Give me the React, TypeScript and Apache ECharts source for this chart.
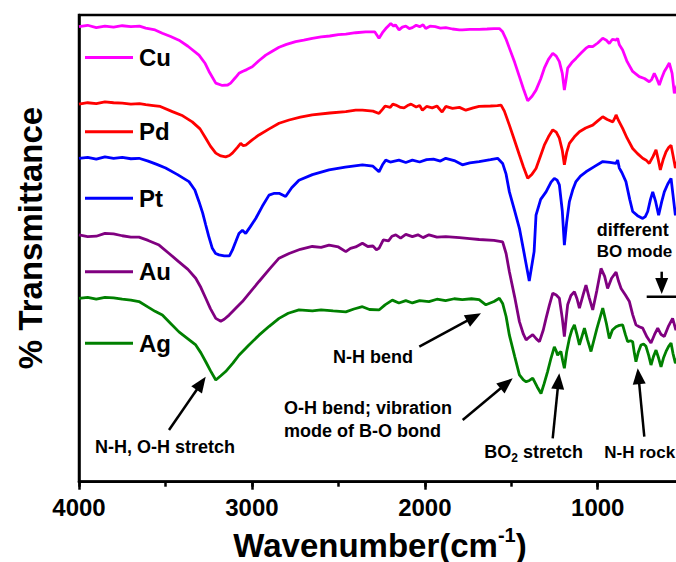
import React, { useEffect, useRef } from "react";
import * as echarts from "echarts";

const FONT = '"Liberation Sans", Arial, Helvetica, sans-serif';

// FTIR spectra: [wavenumber (cm-1), % transmittance (stacked, offset units)]
const cuSpectrum: [number, number][] = [
  [4000, 97.5], [3950, 97.8], [3900, 97.3], [3850, 97.6], [3800, 97.4], [3750, 97.7], [3700, 97.5], [3650, 97.6],
  [3614, 97.2], [3560, 96.8], [3518, 96.1], [3470, 95.4], [3422, 94.6], [3370, 93.3], [3306, 91.4], [3270, 89.6],
  [3248, 87.9], [3209, 85.4], [3171, 84.9], [3140, 85.0], [3123, 85.4], [3095, 86.6], [3075, 87.5], [3055, 87.9],
  [3030, 88.3], [2998, 88.9], [2960, 90.2], [2920, 91.4], [2880, 92.3], [2843, 93.1], [2800, 93.7], [2747, 94.3],
  [2700, 94.6], [2651, 95.0], [2600, 95.3], [2550, 95.5], [2500, 95.8], [2457, 95.9], [2400, 96.2], [2342, 96.4],
  [2290, 96.4], [2265, 95.0], [2245, 96.2], [2226, 97.1], [2197, 98.2], [2180, 97.6], [2170, 97.9], [2149, 96.8],
  [2130, 97.4], [2110, 97.6], [2090, 97.1], [2072, 97.3], [2050, 97.8], [2030, 97.5], [2010, 97.9], [1995, 97.1],
  [1970, 97.6], [1940, 97.5], [1910, 97.2], [1879, 97.3], [1840, 97.0], [1800, 96.8], [1783, 96.8], [1740, 96.9],
  [1686, 96.9], [1640, 97.0], [1600, 97.1], [1569, 97.1], [1550, 96.4], [1530, 94.8], [1511, 92.9], [1480, 89.8],
  [1453, 86.8], [1430, 84.2], [1405, 81.6], [1380, 82.6], [1357, 83.9], [1330, 86.3], [1309, 88.6], [1285, 90.5],
  [1260, 91.8], [1240, 91.2], [1222, 90.0], [1205, 87.5], [1193, 83.9], [1184, 86.0], [1174, 88.6], [1150, 89.8],
  [1126, 90.7], [1095, 91.9], [1068, 92.9], [1050, 93.3], [1029, 93.2], [1000, 94.0], [971, 95.0], [950, 94.6],
  [933, 93.9], [915, 94.8], [894, 94.6], [885, 95.0], [875, 93.6], [856, 92.5], [830, 90.0], [798, 87.9],
  [780, 87.4], [760, 86.8], [730, 86.4], [702, 85.7], [688, 86.2], [673, 87.5], [660, 86.5], [644, 85.0],
  [630, 86.5], [615, 87.9], [600, 88.8], [586, 89.7], [570, 87.5], [557, 83.2], [530, 86.1], [500, 88.2],
];

const pdSpectrum: [number, number][] = [
  [4000, 80.9], [3950, 81.2], [3900, 81.0], [3850, 81.4], [3800, 81.2], [3750, 81.1], [3700, 80.9], [3650, 81.0],
  [3614, 80.8], [3570, 80.6], [3530, 80.4], [3460, 79.3], [3400, 78.4], [3345, 77.1], [3300, 75.6], [3267, 73.6],
  [3240, 71.9], [3209, 70.4], [3180, 69.8], [3152, 69.6], [3130, 69.9], [3113, 70.4], [3085, 71.6], [3065, 72.5],
  [3050, 72.0], [3036, 72.1], [3000, 73.2], [2959, 74.3], [2900, 75.6], [2843, 76.8], [2785, 77.5], [2720, 78.1],
  [2651, 78.6], [2550, 79.0], [2457, 79.3], [2400, 79.6], [2361, 79.6], [2300, 79.4], [2265, 78.9], [2245, 79.8],
  [2230, 80.5], [2200, 80.2], [2185, 80.9], [2168, 80.7], [2140, 80.2], [2120, 80.1], [2100, 80.6], [2080, 80.9],
  [2050, 80.3], [2030, 80.6], [2014, 79.6], [1990, 80.4], [1957, 80.1], [1930, 80.5], [1900, 79.2], [1879, 80.4],
  [1840, 80.0], [1800, 80.2], [1763, 79.6], [1720, 80.1], [1686, 80.4], [1620, 80.5], [1580, 80.6], [1559, 80.7],
  [1540, 79.4], [1511, 76.4], [1480, 73.0], [1453, 70.0], [1430, 67.5], [1405, 65.0], [1380, 65.9], [1357, 67.1],
  [1330, 69.9], [1309, 72.1], [1285, 73.9], [1260, 75.4], [1240, 74.9], [1222, 73.6], [1205, 71.0], [1193, 67.9],
  [1180, 70.5], [1164, 72.5], [1135, 73.9], [1106, 75.0], [1070, 75.8], [1029, 76.4], [1000, 77.3], [971, 78.2],
  [945, 77.6], [913, 77.1], [900, 78.0], [894, 78.6], [880, 77.4], [856, 75.7], [830, 73.6], [798, 71.4],
  [770, 70.3], [740, 69.3], [720, 68.9], [702, 68.2], [680, 69.7], [663, 71.1], [650, 69.0], [638, 66.8],
  [620, 69.2], [605, 70.7], [590, 71.6], [576, 72.1], [565, 70.0], [551, 67.2], [520, 71.1],
];

const ptSpectrum: [number, number][] = [
  [4000, 69.3], [3950, 69.5], [3900, 69.1], [3850, 69.6], [3800, 69.3], [3750, 69.5], [3700, 69.2], [3653, 69.3],
  [3600, 68.7], [3550, 68.0], [3499, 67.2], [3430, 65.8], [3364, 64.3], [3330, 62.5], [3306, 60.0], [3285, 57.6],
  [3267, 55.0], [3250, 52.6], [3229, 50.0], [3210, 48.9], [3190, 48.6], [3160, 48.4], [3130, 48.4], [3113, 49.6],
  [3095, 51.3], [3075, 53.2], [3055, 53.9], [3036, 53.2], [3010, 54.6], [2978, 56.4], [2940, 59.0], [2901, 61.4],
  [2870, 61.8], [2843, 61.8], [2805, 61.1], [2770, 63.0], [2728, 64.6], [2650, 65.8], [2554, 66.8], [2460, 67.4],
  [2361, 67.9], [2300, 67.6], [2265, 66.4], [2245, 67.9], [2226, 68.9], [2200, 68.5], [2150, 68.9], [2110, 68.4],
  [2072, 68.9], [2030, 68.5], [1990, 69.0], [1950, 69.1], [1910, 68.7], [1879, 69.3], [1830, 68.8], [1783, 67.9],
  [1740, 68.3], [1686, 68.6], [1620, 69.0], [1579, 69.3], [1550, 68.2], [1530, 65.9], [1511, 62.1], [1480, 58.0],
  [1453, 54.3], [1424, 48.6], [1396, 43.0], [1368, 49.3], [1357, 57.1], [1330, 60.5], [1299, 62.1], [1270, 64.2],
  [1251, 65.0], [1235, 64.6], [1222, 63.6], [1205, 58.0], [1193, 50.7], [1180, 55.5], [1164, 60.0], [1145, 62.5],
  [1126, 64.3], [1100, 65.5], [1068, 66.4], [1020, 67.5], [971, 68.6], [930, 68.4], [894, 68.2], [885, 68.9],
  [875, 67.2], [860, 66.2], [837, 64.3], [815, 60.5], [798, 57.9], [770, 57.0], [740, 56.4], [725, 56.8],
  [711, 57.9], [695, 60.5], [682, 62.1], [665, 60.0], [648, 57.1], [630, 60.0], [615, 62.1], [595, 63.8],
  [576, 65.0], [565, 61.5], [551, 57.1], [520, 61.4],
];

const auSpectrum: [number, number][] = [
  [4000, 52.9], [3950, 52.5], [3900, 52.6], [3850, 53.2], [3800, 53.1], [3750, 52.7], [3700, 52.4], [3653, 52.4],
  [3600, 51.7], [3537, 50.7], [3479, 48.9], [3422, 47.1], [3370, 45.5], [3325, 43.6], [3295, 41.6], [3267, 39.3],
  [3240, 37.1], [3209, 35.0], [3180, 34.4], [3160, 34.8], [3132, 35.7], [3095, 37.1], [3055, 38.6], [3010, 40.6],
  [2959, 42.9], [2900, 45.5], [2843, 47.9], [2785, 48.9], [2720, 49.8], [2651, 50.4], [2600, 50.2], [2554, 50.7],
  [2500, 50.3], [2457, 49.3], [2430, 50.0], [2400, 50.3], [2361, 51.1], [2330, 50.4], [2300, 50.5], [2280, 49.7],
  [2265, 50.0], [2240, 51.8], [2210, 51.6], [2190, 52.6], [2168, 52.9], [2140, 52.2], [2110, 53.0], [2072, 52.5],
  [2040, 52.9], [2010, 52.3], [1976, 52.9], [1930, 52.4], [1879, 52.5], [1800, 52.3], [1740, 52.1], [1686, 51.9],
  [1600, 51.7], [1550, 51.4], [1530, 48.9], [1511, 45.0], [1480, 39.5], [1453, 34.3], [1430, 31.6], [1414, 30.4],
  [1395, 31.0], [1376, 31.5], [1355, 30.6], [1337, 30.0], [1315, 32.5], [1299, 35.0], [1280, 37.8], [1260, 40.4],
  [1240, 40.0], [1222, 39.3], [1205, 35.0], [1193, 31.1], [1184, 34.5], [1174, 37.9], [1155, 39.9], [1135, 40.7],
  [1120, 39.2], [1106, 37.2], [1085, 40.0], [1068, 42.1], [1050, 39.5], [1029, 36.8], [1005, 41.0], [981, 45.7],
  [960, 44.0], [943, 41.4], [920, 43.6], [894, 44.9], [880, 43.0], [865, 41.4], [840, 40.0], [817, 38.6],
  [798, 35.8], [779, 33.6], [760, 33.2], [740, 32.9], [715, 31.0], [692, 29.7], [672, 31.5], [653, 32.9],
  [635, 31.6], [615, 31.1], [590, 33.4], [567, 35.0], [548, 32.5], [520, 34.7],
];

const agSpectrum: [number, number][] = [
  [4000, 39.3], [3950, 39.5], [3900, 39.1], [3850, 39.5], [3800, 39.4], [3750, 39.1], [3700, 38.9], [3653, 38.6],
  [3600, 37.4], [3560, 36.5], [3518, 35.7], [3470, 33.9], [3422, 32.1], [3370, 30.6], [3325, 29.3], [3295, 27.6],
  [3267, 25.7], [3240, 23.8], [3209, 21.8], [3180, 22.7], [3152, 23.6], [3110, 25.4], [3075, 27.1], [3020, 29.2],
  [2959, 31.4], [2900, 33.3], [2843, 35.0], [2790, 36.1], [2728, 36.8], [2650, 36.6], [2600, 36.8], [2530, 36.6],
  [2457, 36.4], [2410, 37.0], [2361, 37.5], [2320, 36.9], [2265, 36.8], [2230, 37.9], [2188, 38.9], [2150, 38.3],
  [2110, 38.8], [2072, 38.3], [2030, 38.8], [1976, 38.6], [1930, 39.1], [1880, 38.8], [1830, 39.2], [1783, 39.0],
  [1730, 39.2], [1686, 39.0], [1647, 37.9], [1600, 38.6], [1569, 39.3], [1550, 38.2], [1530, 35.4], [1511, 31.4],
  [1480, 26.8], [1453, 22.9], [1430, 21.8], [1414, 21.4], [1395, 21.7], [1376, 22.2], [1350, 20.3], [1328, 18.9],
  [1310, 21.0], [1290, 23.6], [1270, 26.5], [1251, 28.9], [1240, 28.0], [1232, 27.1], [1222, 27.6], [1213, 27.9],
  [1203, 26.0], [1193, 24.3], [1180, 27.8], [1164, 30.7], [1150, 32.5], [1135, 33.6], [1120, 31.5], [1106, 29.3],
  [1090, 31.3], [1077, 32.9], [1060, 30.5], [1039, 27.9], [1005, 32.8], [971, 37.2], [950, 33.9], [933, 30.7],
  [915, 32.5], [894, 33.2], [875, 33.5], [856, 33.6], [840, 31.5], [827, 30.0], [810, 30.2], [798, 30.0],
  [788, 27.5], [779, 25.7], [765, 27.8], [750, 29.3], [735, 29.5], [721, 29.0], [705, 27.0], [692, 25.0],
  [678, 26.8], [663, 28.2], [648, 26.5], [634, 24.6], [620, 26.5], [605, 27.9], [590, 29.0], [576, 29.7],
  [565, 27.5], [551, 25.4], [520, 28.2],
];

const sampleNames = ["Cu", "Pd", "Pt", "Au", "Ag"];
const sampleColors = ["#ff00ff", "#ff0000", "#0000ff", "#800080", "#008000"];
const spectra = [cuSpectrum, pdSpectrum, ptSpectrum, auSpectrum, agSpectrum];

// wavenumber axis tick labels (axis runs 4000 -> 500)
const majorTicks = [4000, 3000, 2000, 1000];

// vertical centre (px) of each legend entry
const legendRowsY = [57.5, 131.7, 198.3, 271.7, 343.3];

const ink = "#000";

function arrow(x1: number, y1: number, x2: number, y2: number) {
  const dx = x2 - x1;
  const dy = y2 - y1;
  const len = Math.hypot(dx, dy);
  const ux = dx / len;
  const uy = dy / len;
  const hl = 16;
  const hw = 6.5;
  const bx = x2 - ux * hl;
  const by = y2 - uy * hl;
  const nx = -uy;
  const ny = ux;
  return [
    {
      type: "line",
      silent: true,
      z: 50,
      shape: { x1, y1, x2: bx + ux * 2, y2: by + uy * 2 },
      style: { stroke: ink, lineWidth: 2.5 },
    },
    {
      type: "polygon",
      silent: true,
      z: 50,
      shape: {
        points: [
          [x2, y2],
          [bx + nx * hw, by + ny * hw],
          [bx - nx * hw, by - ny * hw],
        ],
      },
      style: { fill: ink },
    },
  ];
}

function label(text: string, x: number, y: number, align: string = "left", size: number = 18) {
  return {
    type: "text",
    silent: true,
    z: 50,
    x,
    y,
    style: {
      text,
      fill: ink,
      font: `bold ${size}px ${FONT}`,
      textAlign: align,
      textVerticalAlign: "middle",
      align,
      verticalAlign: "middle",
    },
  };
}

export default function App() {
  const ref = useRef<HTMLDivElement>(null);

  useEffect(() => {
    if (!ref.current) return;
    const chart = echarts.init(ref.current, null, { renderer: "svg" });

    const series = spectra.map((spec, i) => ({
      name: sampleNames[i],
      type: "line",
      symbol: "none",
      showSymbol: false,
      silent: true,
      data: spec.map(([wn, t]) => [-wn, t]),
      lineStyle: { color: sampleColors[i], width: 2.8 },
      itemStyle: { color: sampleColors[i] },
      emphasis: { disabled: true },
      z: 10 - i,
    }));

    const legends = sampleNames.map((name, i) => ({
      data: [name],
      left: 85,
      top: legendRowsY[i] - 12,
      padding: 0,
      icon: "rect",
      itemWidth: 48,
      itemHeight: 3,
      itemGap: 5,
      selectedMode: false,
      textStyle: {
        color: ink,
        fontSize: 24,
        fontWeight: "bold",
        fontFamily: FONT,
        lineHeight: 24,
        padding: [0, 0, 0, 1],
      },
    }));

    const graphic: any[] = [
      // axis titles
      {
        type: "text",
        silent: true,
        x: 30,
        y: 238,
        rotation: Math.PI / 2,
        style: {
          text: "% Transmittance",
          fill: ink,
          font: `bold 33px ${FONT}`,
          textAlign: "center",
          textVerticalAlign: "middle",
          align: "center",
          verticalAlign: "middle",
        },
      },
      {
        type: "text",
        silent: true,
        x: 380,
        y: 545,
        style: {
          text: "{m|Wavenumber(cm}{s|-1}{m|)}",
          fill: ink,
          textAlign: "center",
          textVerticalAlign: "middle",
          align: "center",
          verticalAlign: "middle",
          rich: {
            m: { fontSize: 33, fontWeight: "bold", fontFamily: FONT, lineHeight: 40, fill: ink },
            s: { fontSize: 20, fontWeight: "bold", fontFamily: FONT, lineHeight: 20, verticalAlign: "top", fill: ink },
          },
        },
      },
      // band assignments
      label("N-H, O-H stretch", 165, 446.5, "center"),
      ...arrow(169, 430, 205.7, 376.7),
      label("N-H bend", 373, 356.5, "center"),
      ...arrow(419.3, 346.7, 481, 313.3),
      label("O-H bend; vibration", 284, 408),
      label("mode of B-O bond", 284, 431),
      ...arrow(462.7, 420, 512.7, 378.3),
      {
        type: "text",
        silent: true,
        z: 50,
        x: 484.3,
        y: 452,
        style: {
          text: "{m|BO}{s|2}{m| stretch}",
          fill: ink,
          textAlign: "left",
          textVerticalAlign: "middle",
          align: "left",
          verticalAlign: "middle",
          rich: {
            m: { fontSize: 18, fontWeight: "bold", fontFamily: FONT, lineHeight: 24, fill: ink },
            s: { fontSize: 12, fontWeight: "bold", fontFamily: FONT, lineHeight: 12, verticalAlign: "bottom", fill: ink },
          },
        },
      },
      ...arrow(552.7, 438.3, 559.3, 373.3),
      label("N-H rock", 604.3, 452, "left", 17),
      ...arrow(644.3, 436.7, 637.7, 368.3),
      label("different", 596.7, 230),
      label("BO mode", 596.7, 251.7, "left", 17),
      ...arrow(661.7, 271.7, 661.7, 294),
      {
        type: "line",
        silent: true,
        z: 50,
        shape: { x1: 646.7, y1: 296.7, x2: 700, y2: 296.7 },
        style: { stroke: ink, lineWidth: 2.5 },
      },
    ];

    chart.setOption({
      animation: false,
      backgroundColor: "#fff",
      grid: {
        left: 79,
        top: 15,
        right: 15.8,
        bottom: 80.3,
        show: true,
        borderColor: ink,
        borderWidth: 2.5,
        backgroundColor: "transparent",
      },
      legend: legends,
      xAxis: [
        {
          type: "value",
          min: -4000,
          max: -500,
          interval: 1000,
          axisLine: { show: true, onZero: false, lineStyle: { color: ink, width: 2.5 } },
          axisTick: { show: true, inside: false, length: 8, lineStyle: { color: ink, width: 2.5 } },
          axisLabel: {
            show: true,
            margin: 14,
            color: ink,
            fontSize: 24,
            fontWeight: "bold",
            fontFamily: FONT,
            showMaxLabel: false,
            formatter: (v: number) => (majorTicks.includes(-v) ? String(-v) : ""),
          },
          splitLine: { show: false },
        },
        {
          type: "value",
          position: "bottom",
          min: -4000,
          max: -500,
          interval: 500,
          axisLine: { show: false, onZero: false },
          axisTick: { show: true, inside: false, length: 5, lineStyle: { color: ink, width: 2.5 } },
          axisLabel: { show: false },
          splitLine: { show: false },
        },
      ],
      yAxis: {
        type: "value",
        min: 0,
        max: 100,
        axisLine: { show: true, onZero: false, lineStyle: { color: ink, width: 2.5 } },
        axisTick: { show: false },
        axisLabel: { show: false },
        splitLine: { show: false },
      },
      series,
      graphic,
    });

    return () => chart.dispose();
  }, []);

  return (
    <div
      style={{
        position: "fixed",
        left: 0,
        top: 0,
        width: 676,
        height: 562,
        overflow: "hidden",
        background: "#fff",
      }}
    >
      <div ref={ref} style={{ width: 700, height: 562 }} />
    </div>
  );
}
